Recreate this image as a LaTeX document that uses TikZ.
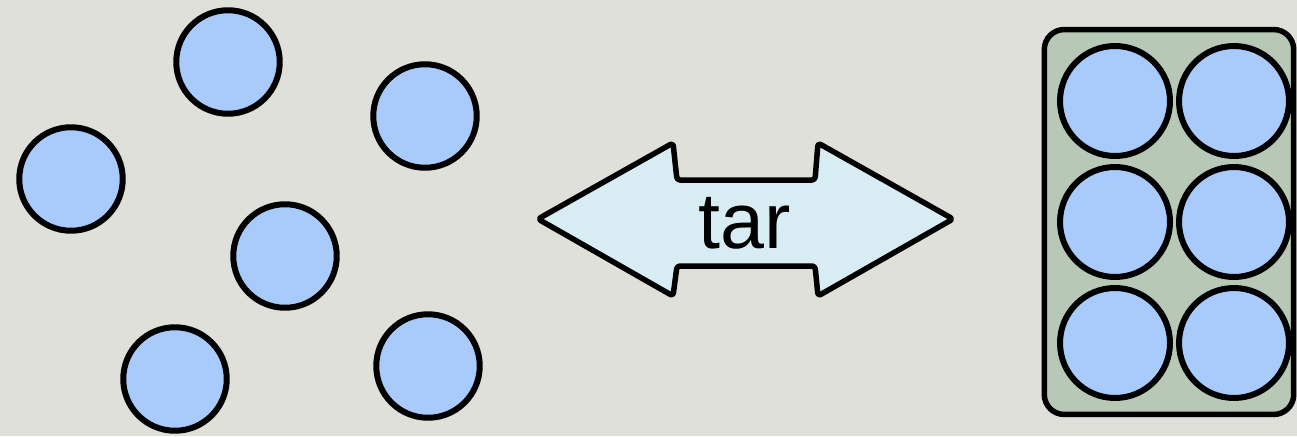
\documentclass[tikz,border=0pt]{standalone}
\usepackage{fontspec}
\setmainfont{Liberation Sans}
\definecolor{paper}{RGB}{224,224,219}
\definecolor{ballblue}{RGB}{169,203,252}
\definecolor{traygreen}{RGB}{183,201,182}
\definecolor{arrowblue}{RGB}{216,237,243}
\begin{document}
\begin{tikzpicture}[x=0.02cm,y=-0.02cm,line join=round,
ball/.style={circle,draw=black,fill=ballblue,line width=0.12cm,minimum size=2.07cm,inner sep=0pt},
inball/.style={ball,minimum size=2.2cm},
tray/.style={rectangle,draw=black,fill=traygreen,line width=0.11cm,rounded corners=0.4cm,minimum width=4.99cm,minimum height=7.7cm,inner sep=0pt},
band/.style={draw=black,fill=arrowblue,line width=0.11cm,rounded corners=0.06cm}]
\fill[paper] (0,0) rectangle (1297,436);
\useasboundingbox (0,0) rectangle (1297,436);

\node[ball] (top) at (228,62) {};
\node[ball] (upright) at (425,116) {};
\node[ball] (left) at (71,179) {};
\node[ball] (mid) at (285,256) {};
\node[ball] (lowleft) at (175,379) {};
\node[ball] (lowright) at (428,366) {};

\draw[band] (538,219) -- (673,143) -- (677,180) -- (815,180) -- (818,143)
-- (953,219) -- (818,296) -- (815,266) -- (677,266) -- (673,296) -- cycle;
\node[anchor=base,font=\fontsize{45}{50}\selectfont] (tar) at (745,248) {tar};

\node[tray] (box) at (1169,222) {};
\node[inball] (p11) at (1115,101) {};
\node[inball] (p12) at (1234,101) {};
\node[inball] (p21) at (1115,222) {};
\node[inball] (p22) at (1234,222) {};
\node[inball] (p31) at (1115,343) {};
\node[inball] (p32) at (1234,343) {};
\end{tikzpicture}
\end{document}
